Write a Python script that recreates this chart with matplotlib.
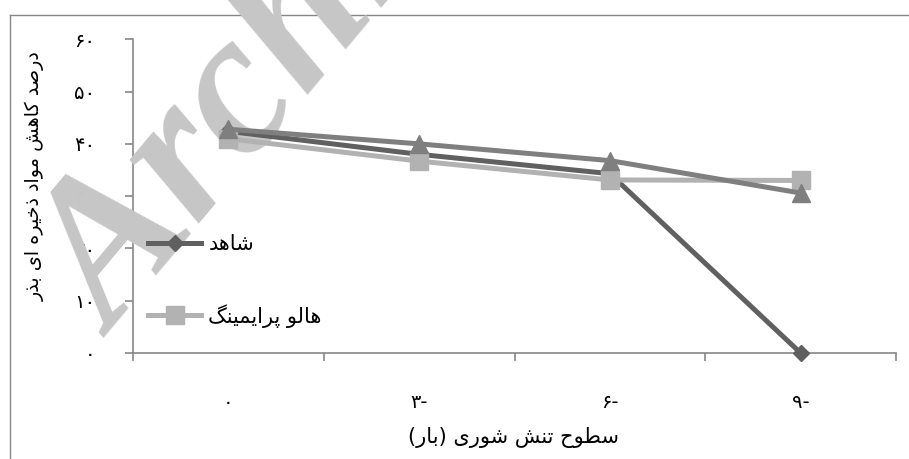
import matplotlib
matplotlib.use("Agg")
import matplotlib.pyplot as plt
from matplotlib.lines import Line2D

# ---- data -------------------------------------------------------------
salinity_levels = [0, -3, -6, -9]          # salinity stress (bar)
control = [42.4, 38.0, 34.3, 0.0]          # شاهد
halo_priming = [41.0, 36.7, 33.1, 33.0]    # هالو پرایمینگ
third_treatment = [42.8, 40.0, 36.8, 30.6]
y_ticks = [0, 10, 20, 30, 40, 50, 60]

control_name = "شاهد"
halo_name = "هالو پرایمینگ"
x_title = "سطوح تنش شوری (بار)"
y_title = "درصد کاهش مواد ذخیره ای بذر"

# ---- simple Persian shaping (contextual forms + visual order) ---------
FORMS = {
    "\u0627": ("\uFE8D", "\uFE8E"),
    "\u0628": ("\uFE8F", "\uFE90", "\uFE91", "\uFE92"),
    "\u067E": ("\uFB56", "\uFB57", "\uFB58", "\uFB59"),
    "\u062A": ("\uFE95", "\uFE96", "\uFE97", "\uFE98"),
    "\u062D": ("\uFEA1", "\uFEA2", "\uFEA3", "\uFEA4"),
    "\u062E": ("\uFEA5", "\uFEA6", "\uFEA7", "\uFEA8"),
    "\u062F": ("\uFEA9", "\uFEAA"),
    "\u0630": ("\uFEAB", "\uFEAC"),
    "\u0631": ("\uFEAD", "\uFEAE"),
    "\u0633": ("\uFEB1", "\uFEB2", "\uFEB3", "\uFEB4"),
    "\u0634": ("\uFEB5", "\uFEB6", "\uFEB7", "\uFEB8"),
    "\u0635": ("\uFEB9", "\uFEBA", "\uFEBB", "\uFEBC"),
    "\u0637": ("\uFEC1", "\uFEC2", "\uFEC3", "\uFEC4"),
    "\u06A9": ("\uFB8E", "\uFB8F", "\uFB90", "\uFB91"),
    "\u06AF": ("\uFB92", "\uFB93", "\uFB94", "\uFB95"),
    "\u0644": ("\uFEDD", "\uFEDE", "\uFEDF", "\uFEE0"),
    "\u0645": ("\uFEE1", "\uFEE2", "\uFEE3", "\uFEE4"),
    "\u0646": ("\uFEE5", "\uFEE6", "\uFEE7", "\uFEE8"),
    "\u0648": ("\uFEED", "\uFEEE"),
    "\u0647": ("\uFEE9", "\uFEEA", "\uFEEB", "\uFEEC"),
    "\u06CC": ("\uFBFC", "\uFBFD", "\uFBFE", "\uFBFF"),
}


def rtl(text):
    text = text.replace("\u064A", "\u06CC").replace("\u0643", "\u06A9")
    out = []
    n = len(text)
    for i, ch in enumerate(text):
        forms = FORMS.get(ch)
        if forms is None:
            out.append(ch)
            continue
        prev = text[i - 1] if i > 0 else ""
        nxt = text[i + 1] if i < n - 1 else ""
        join_prev = prev in FORMS and len(FORMS[prev]) == 4
        join_next = len(forms) == 4 and nxt in FORMS
        if join_prev and join_next:
            out.append(forms[3])
        elif join_prev:
            out.append(forms[1])
        elif join_next:
            out.append(forms[2])
        else:
            out.append(forms[0])
    vis = "".join(reversed(out))
    return vis.translate(str.maketrans("()", ")("))


FA_DIGITS = str.maketrans("0123456789", "۰۱۲۳۴۵۶۷۸۹")


def fa_num(v):
    s = str(abs(int(v))).translate(FA_DIGITS)
    return s + "-" if v < 0 else s


# ---- figure -----------------------------------------------------------
W, H = 909, 459
fig = plt.figure(figsize=(W / 100, H / 100), dpi=100)
fig.patch.set_facecolor("white")

plt.rcParams["font.family"] = ["DejaVu Sans"]

border_c = "#878787"
fig.add_artist(Line2D([9.5 / W, 9.5 / W], [0, 1 - 15 / H], color=border_c,
                      lw=1.0, transform=fig.transFigure, zorder=-1))
fig.add_artist(Line2D([9.5 / W, 1], [1 - 15 / H, 1 - 15 / H], color=border_c,
                      lw=1.0, transform=fig.transFigure, zorder=-1))

ax = fig.add_axes([133 / W, 106 / H, (896 - 133) / W, (419.7 - 106) / H])
ax.patch.set_alpha(0)

x = list(range(1, len(salinity_levels) + 1))

c_dark, c_light, c_mid = "#606060", "#b2b2b2", "#7f7f7f"
ax.plot(x, control, color=c_dark, lw=3.6, marker="D", ms=8.5,
        zorder=3, clip_on=False)
ax.plot(x, halo_priming, color=c_light, lw=3.6, marker="s", ms=13.5,
        zorder=4, clip_on=False)
ax.plot(x, third_treatment, color=c_mid, lw=3.6, marker="^", ms=13.5,
        zorder=5, clip_on=False)

ax.set_xlim(0.5, len(x) + 0.5)
ax.set_ylim(0, 60)

ax.set_xticks([i + 0.5 for i in range(0, len(x) + 1)])
ax.set_xticklabels([])
ax.set_xticks(x, minor=True)
ax.set_xticklabels([fa_num(v) for v in salinity_levels], minor=True)
ax.tick_params(axis="x", which="minor", length=0, pad=29, labelsize=14)
ax.tick_params(axis="x", which="major", length=6, width=1.2, color=border_c,
               direction="out")

ax.set_yticks(y_ticks)
ax.set_yticklabels([fa_num(v) for v in y_ticks])
ax.tick_params(axis="y", length=6, width=1.2, color=border_c, direction="out",
               pad=21, labelsize=14)

for side in ("top", "right"):
    ax.spines[side].set_visible(False)
for side in ("left", "bottom"):
    ax.spines[side].set_color(border_c)
    ax.spines[side].set_linewidth(1.2)
    ax.spines[side].set_zorder(1)

fig.text(513 / W, 1 - 437 / H, rtl(x_title), ha="center", va="center",
         fontsize=15)
fig.text(35 / W, 1 - 176 / H, rtl(y_title), ha="center", va="center",
         rotation=90, fontsize=13.8)

# watermark
ax.text(114, H - 338, "Archive", transform=None, fontsize=146,
        family="Liberation Serif", style="italic", weight="bold",
        color="#c6c6c6", rotation=50, rotation_mode="anchor",
        ha="left", va="baseline", zorder=2, clip_on=False)

handles = [
    Line2D([], [], color=c_dark, lw=3.6, marker="D", ms=8.5),
    Line2D([], [], color=c_light, lw=3.6, marker="s", ms=13.5),
]
leg = ax.legend(handles, [rtl(control_name), rtl(halo_name)],
                loc="upper left", bbox_to_anchor=(148 / W, 1 - 234 / H),
                bbox_transform=fig.transFigure, frameon=False, fontsize=15,
                handlelength=2.55, handletextpad=0.35, labelspacing=2.4,
                borderpad=0, borderaxespad=0)
leg.set_zorder(6)

fig.savefig("out.png", dpi=100)
